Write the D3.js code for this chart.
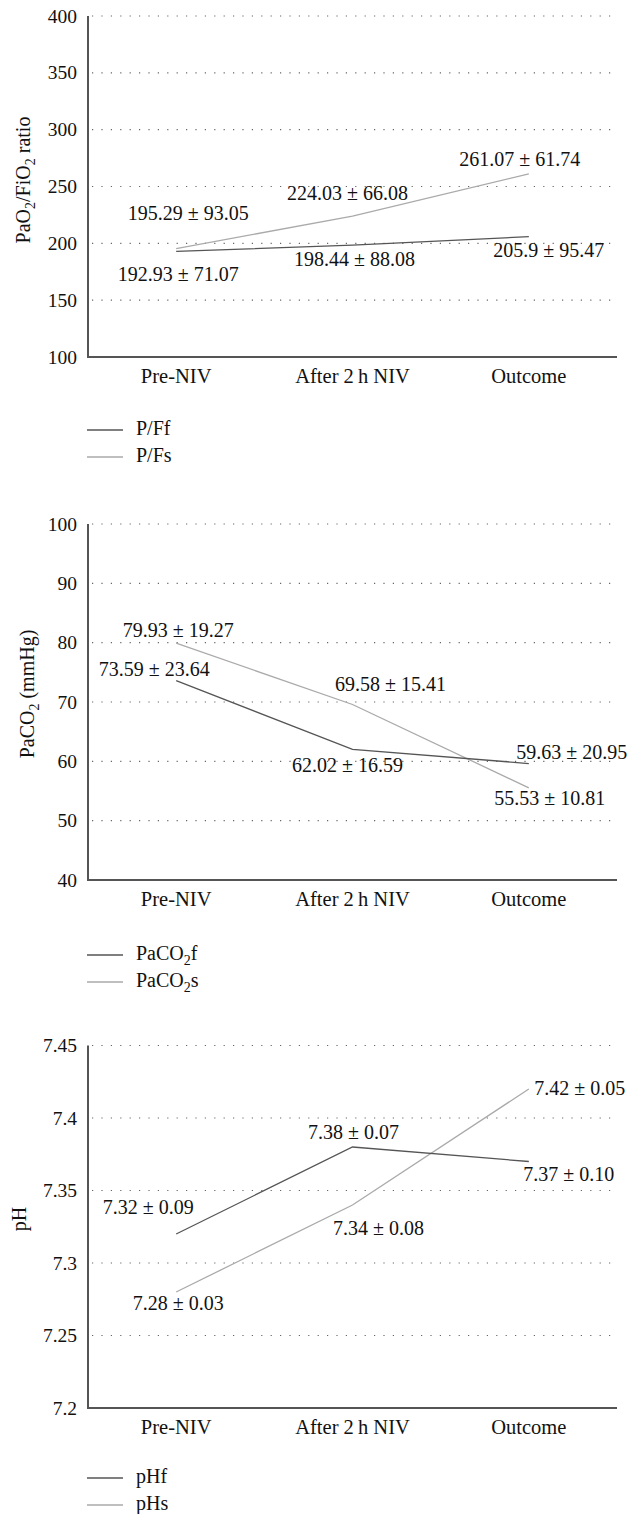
<!DOCTYPE html>
<html>
<head>
<meta charset="utf-8">
<script src="https://cdn.jsdelivr.net/npm/d3@7"></script>
<style>
  body { margin: 0; background: #fff; }
  svg text { font-family: "Liberation Serif", "DejaVu Serif", "Times New Roman", serif; fill: #111; }
  .tick-label { font-size: 19.5px; }
  .cat-label { font-size: 20.5px; }
  .val-label { font-size: 20px; }
  .legend-label { font-size: 20px; }
  .y-title { font-size: 20px; }
  .grid { stroke: #666; stroke-width: 1.2; stroke-dasharray: 1.2 8.2; }
  .axis-line { stroke: #555; stroke-width: 2; }
</style>
</head>
<body>
<div id="wrapper"></div>
<script>
// 1. Data
const categories = ["Pre-NIV", "After 2\u2009h NIV", "Outcome"]

const pfTicks = [100, 150, 200, 250, 300, 350, 400]
const pfF = [192.93, 198.44, 205.9]
const pfFsd = [71.07, 88.08, 95.47]
const pfS = [195.29, 224.03, 261.07]
const pfSsd = [93.05, 66.08, 61.74]

const co2Ticks = [40, 50, 60, 70, 80, 90, 100]
const co2F = [73.59, 62.02, 59.63]
const co2Fsd = [23.64, 16.59, 20.95]
const co2S = [79.93, 69.58, 55.53]
const co2Ssd = [19.27, 15.41, 10.81]

const phTicks = [7.2, 7.25, 7.3, 7.35, 7.4, 7.45]
const phF = [7.32, 7.38, 7.37]
const phFsd = [0.09, 0.07, 0.10]
const phS = [7.28, 7.34, 7.42]
const phSsd = [0.03, 0.08, 0.05]

// 2. Dimensions / layout
const width = 640
const height = 1514
const left = 88
const right = 617

const colorF = "#555"
const colorS = "#aaa"

// label offsets (dx, dy) from each point, per panel: [f0, f1, f2], [s0, s1, s2]
const panels = [
  {
    top: 16, bottom: 357, ticks: pfTicks,
    fmtTick: d => d,
    f: pfF, fsd: pfFsd, s: pfS, ssd: pfSsd,
    fmtVal: (v, sd) => `${v} ± ${sd.toFixed(2)}`,
    fOff: [[2, 30], [2, 21], [20, 20]],
    sOff: [[12, -29], [-5, -16], [-9, -8]],
    title: [["PaO", 0], ["2", 1], ["/FiO", 0], ["2", 1], [" ratio", 0]],
    titleX: 30, titleY: 180,
    legend: [[["P/Ff", 0]], [["P/Fs", 0]]],
    legendY: 430,
  },
  {
    top: 524, bottom: 880, ticks: co2Ticks,
    fmtTick: d => d,
    f: co2F, fsd: co2Fsd, s: co2S, ssd: co2Ssd,
    fmtVal: (v, sd) => `${v.toFixed(2)} ± ${sd.toFixed(2)}`,
    fOff: [[-22, -5], [-5, 23], [43, -5]],
    sOff: [[2, -6], [38, -13], [21, 17]],
    title: [["PaCO", 0], ["2", 1], [" (mmHg)", 0]],
    titleX: 34, titleY: 694,
    legend: [[["PaCO", 0], ["2", 1], ["f", 0]], [["PaCO", 0], ["2", 1], ["s", 0]]],
    legendY: 955,
  },
  {
    top: 1045.5, bottom: 1408, ticks: phTicks,
    fmtTick: d => String(+d.toFixed(2)),
    f: phF, fsd: phFsd, s: phS, ssd: phSsd,
    fmtVal: (v, sd) => `${v.toFixed(2)} ± ${sd.toFixed(2)}`,
    fOff: [[-28, -20], [1, -8], [40, 19]],
    sOff: [[2, 18], [26, 30], [51, 6]],
    title: [["pH", 0]],
    titleX: 26, titleY: 1219,
    legend: [[["pHf", 0]], [["pHs", 0]]],
    legendY: 1478,
  },
]

// 3. Draw canvas
const svg = d3.select("#wrapper")
  .append("svg")
    .attr("width", width)
    .attr("height", height)
    .style("display", "block")

const xScale = d3.scalePoint()
  .domain(categories)
  .range([left, right])
  .padding(0.5)

function addRich(textSel, parts) {
  parts.forEach(([t, sub], i) => {
    const prevSub = i > 0 ? parts[i - 1][1] : 0
    textSel.append("tspan")
      .attr("dy", sub && !prevSub ? 5 : (!sub && prevSub ? -5 : 0))
      .style("font-size", sub ? "14px" : null)
      .text(t)
  })
}

function drawPanel(p) {
  const g = svg.append("g")

  const yScale = d3.scaleLinear()
    .domain(d3.extent(p.ticks))
    .range([p.bottom, p.top])

  // grid
  g.selectAll(".grid")
    .data(p.ticks.slice(1))
    .join("line")
      .attr("class", "grid")
      .attr("x1", left + 4)
      .attr("x2", right)
      .attr("y1", d => yScale(d))
      .attr("y2", d => yScale(d))

  // tick labels
  g.selectAll(".tick-label")
    .data(p.ticks)
    .join("text")
      .attr("class", "tick-label")
      .attr("x", left - 11)
      .attr("y", d => yScale(d))
      .attr("dy", "0.34em")
      .attr("text-anchor", "end")
      .text(p.fmtTick)

  // axes
  g.append("line")
      .attr("class", "axis-line")
      .attr("x1", left).attr("x2", left)
      .attr("y1", p.top).attr("y2", p.bottom)
  g.append("line")
      .attr("class", "axis-line")
      .attr("x1", left - 1).attr("x2", right)
      .attr("y1", p.bottom).attr("y2", p.bottom)

  // category labels
  g.selectAll(".cat-label")
    .data(categories)
    .join("text")
      .attr("class", "cat-label")
      .attr("x", d => xScale(d))
      .attr("y", p.bottom + 26)
      .attr("text-anchor", "middle")
      .text(d => d)

  // y title
  const title = g.append("text")
      .attr("class", "y-title")
      .attr("text-anchor", "middle")
      .attr("transform", `translate(${p.titleX},${p.titleY}) rotate(-90)`)
  addRich(title, p.title)

  // lines
  const lineGen = d3.line()
    .x((d, i) => xScale(categories[i]))
    .y(d => yScale(d))

  const series = [
    { vals: p.s, sd: p.ssd, color: colorS, off: p.sOff },
    { vals: p.f, sd: p.fsd, color: colorF, off: p.fOff },
  ]

  series.forEach(s => {
    g.append("path")
      .attr("d", lineGen(s.vals))
      .attr("fill", "none")
      .attr("stroke", s.color)
      .attr("stroke-width", 1.3)
  })

  series.forEach(s => {
    g.selectAll(null)
      .data(s.vals)
      .join("text")
        .attr("class", "val-label")
        .attr("x", (d, i) => xScale(categories[i]) + s.off[i][0])
        .attr("y", (d, i) => yScale(d) + s.off[i][1])
        .attr("text-anchor", "middle")
        .text((d, i) => p.fmtVal(d, s.sd[i]))
  })

  // legend
  ;[colorF, colorS].forEach((c, i) => {
    const y = p.legendY + i * 27
    g.append("line")
      .attr("x1", 87).attr("x2", 123)
      .attr("y1", y).attr("y2", y)
      .attr("stroke", c)
      .attr("stroke-width", 1.3)
    const t = g.append("text")
      .attr("class", "legend-label")
      .attr("x", 136)
      .attr("y", y + 5)
    addRich(t, p.legend[i])
  })
}

panels.forEach(drawPanel)
</script>
</body>
</html>
